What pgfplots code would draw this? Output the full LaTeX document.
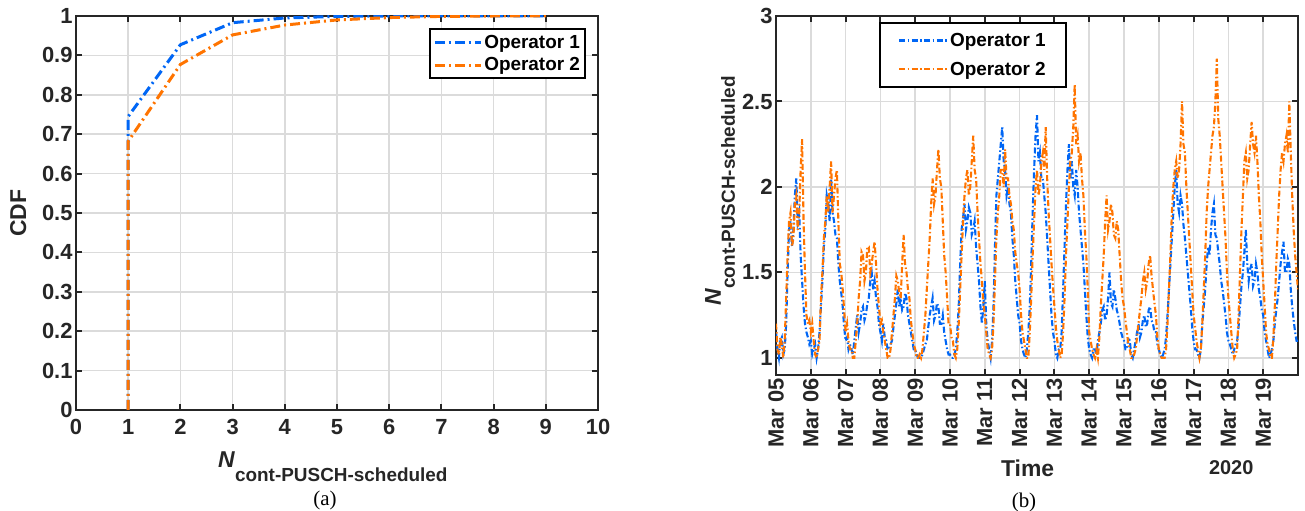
\documentclass[border=0pt]{standalone}
\usepackage{fontspec}
\setmainfont{Liberation Sans}
\newfontfamily\timesfont{Liberation Serif}
\usepackage{pgfplots}
\pgfplotsset{compat=1.18}
\usepackage{pgfplotstable}
\definecolor{opblue}{RGB}{0,102,245}
\definecolor{oporange}{RGB}{255,116,0}
\definecolor{axgray}{RGB}{38,38,38}

\pgfplotstableread{
t b o
0.000 1.15 1.20
0.042 1.05 1.05
0.083 1.00 1.02
0.125 1.10 1.12
0.167 1.12 1.08
0.208 1.02 1.00
0.250 1.05 1.10
0.292 1.20 1.35
0.333 1.50 1.60
0.375 1.75 1.80
0.417 1.80 1.85
0.458 1.65 1.65
0.500 1.75 1.70
0.542 1.95 1.90
0.583 2.05 1.95
0.625 1.80 1.75
0.667 1.85 1.85
0.708 1.60 2.10
0.750 1.45 2.28
0.792 1.30 1.80
0.833 1.20 1.50
0.875 1.15 1.25
0.917 1.12 1.20
0.958 1.08 1.22
1.000 1.10 1.15
1.042 1.02 1.20
1.083 1.05 1.10
1.125 1.08 1.02
1.167 1.00 1.00
1.208 1.05 1.05
1.250 1.15 1.10
1.292 1.30 1.35
1.333 1.45 1.50
1.375 1.65 1.70
1.417 1.75 1.80
1.458 1.95 1.95
1.500 1.90 1.85
1.542 1.80 2.00
1.583 2.05 2.15
1.625 1.85 1.85
1.667 1.80 1.95
1.708 1.72 2.05
1.750 1.70 2.10
1.792 1.55 1.80
1.833 1.45 1.55
1.875 1.38 1.50
1.917 1.30 1.40
1.958 1.18 1.28
2.000 1.10 1.15
2.042 1.12 1.20
2.083 1.05 1.10
2.125 1.08 1.05
2.167 1.05 1.05
2.208 1.02 1.00
2.250 1.10 1.00
2.292 1.18 1.10
2.333 1.25 1.20
2.375 1.15 1.35
2.417 1.20 1.45
2.458 1.28 1.62
2.500 1.30 1.60
2.542 1.22 1.45
2.583 1.25 1.50
2.625 1.32 1.65
2.667 1.35 1.65
2.708 1.45 1.50
2.750 1.50 1.55
2.792 1.40 1.62
2.833 1.45 1.68
2.875 1.35 1.55
2.917 1.30 1.40
2.958 1.20 1.30
3.000 1.15 1.20
3.042 1.10 1.22
3.083 1.20 1.15
3.125 1.12 1.10
3.167 1.10 1.05
3.208 1.05 1.00
3.250 1.05 1.00
3.292 1.08 1.05
3.333 1.10 1.15
3.375 1.18 1.25
3.417 1.25 1.35
3.458 1.32 1.48
3.500 1.40 1.45
3.542 1.30 1.38
3.583 1.35 1.35
3.625 1.28 1.55
3.667 1.30 1.72
3.708 1.38 1.55
3.750 1.35 1.50
3.792 1.25 1.40
3.833 1.20 1.35
3.875 1.15 1.22
3.917 1.10 1.15
3.958 1.05 1.08
4.000 1.05 1.05
4.042 1.02 1.00
4.083 1.00 1.00
4.125 1.00 1.02
4.167 1.00 1.00
4.208 1.02 1.05
4.250 1.05 1.15
4.292 1.08 1.25
4.333 1.10 1.40
4.375 1.18 1.55
4.417 1.25 1.70
4.458 1.30 1.90
4.500 1.35 2.05
4.542 1.22 1.90
4.583 1.25 1.95
4.625 1.32 2.10
4.667 1.30 2.22
4.708 1.20 2.05
4.750 1.20 2.00
4.792 1.25 1.80
4.833 1.15 1.60
4.875 1.10 1.50
4.917 1.05 1.35
4.958 1.02 1.20
5.000 1.02 1.20
5.042 1.00 1.12
5.083 1.00 1.10
5.125 1.02 1.02
5.167 1.05 1.00
5.208 1.15 1.05
5.250 1.30 1.20
5.292 1.55 1.40
5.333 1.75 1.60
5.375 1.82 1.80
5.417 1.90 1.95
5.458 1.75 2.05
5.500 1.80 2.10
5.542 1.88 1.95
5.583 1.85 2.00
5.625 1.72 2.15
5.667 1.75 2.30
5.708 1.80 2.10
5.750 1.65 2.05
5.792 1.55 1.85
5.833 1.45 1.70
5.875 1.30 1.55
5.917 1.20 1.45
5.958 1.30 1.32
6.000 1.45 1.25
6.042 1.20 1.15
6.083 1.10 1.05
6.125 1.05 1.02
6.167 1.00 1.00
6.208 1.10 1.05
6.250 1.30 1.20
6.292 1.65 1.45
6.333 1.95 1.70
6.375 2.05 1.85
6.417 2.15 1.95
6.458 2.25 2.10
6.500 2.35 2.10
6.542 2.15 2.00
6.583 2.10 2.22
6.625 1.95 2.05
6.667 2.00 2.05
6.708 1.90 1.95
6.750 1.85 1.90
6.792 1.70 1.80
6.833 1.60 1.75
6.875 1.45 1.62
6.917 1.35 1.55
6.958 1.25 1.50
7.000 1.20 1.40
7.042 1.10 1.25
7.083 1.05 1.15
7.125 1.02 1.10
7.167 1.00 1.05
7.208 1.05 1.00
7.250 1.15 1.00
7.292 1.30 1.15
7.333 1.55 1.35
7.375 1.85 1.60
7.417 2.10 1.80
7.458 2.30 2.00
7.500 2.42 2.10
7.542 2.15 1.95
7.583 2.20 2.00
7.625 2.05 2.15
7.667 2.05 2.20
7.708 1.95 2.10
7.750 1.85 2.35
7.792 1.70 2.05
7.833 1.55 1.85
7.875 1.40 1.70
7.917 1.25 1.55
7.958 1.15 1.42
8.000 1.10 1.30
8.042 1.02 1.18
8.083 1.00 1.10
8.125 1.05 1.05
8.167 1.05 1.00
8.208 1.15 1.02
8.250 1.40 1.15
8.292 1.65 1.35
8.333 1.90 1.60
8.375 2.10 1.80
8.417 2.25 2.00
8.458 2.05 2.15
8.500 2.15 2.20
8.542 2.00 2.35
8.583 1.95 2.60
8.625 2.10 2.25
8.667 2.00 2.30
8.708 1.85 2.15
8.750 1.75 2.20
8.792 1.65 2.05
8.833 1.55 1.95
8.875 1.40 1.75
8.917 1.25 1.60
8.958 1.12 1.40
9.000 1.05 1.15
9.042 1.02 1.10
9.083 1.00 1.05
9.125 1.05 1.02
9.167 1.05 1.00
9.208 1.02 1.05
9.250 1.10 1.00
9.292 1.15 1.12
9.333 1.20 1.30
9.375 1.28 1.45
9.417 1.30 1.60
9.458 1.22 1.80
9.500 1.25 1.95
9.542 1.35 1.75
9.583 1.50 1.80
9.625 1.32 1.90
9.667 1.30 1.85
9.708 1.40 1.72
9.750 1.35 1.70
9.792 1.28 1.80
9.833 1.25 1.75
9.875 1.20 1.60
9.917 1.15 1.45
9.958 1.12 1.35
10.000 1.10 1.30
10.042 1.05 1.22
10.083 1.05 1.15
10.125 1.12 1.08
10.167 1.10 1.05
10.208 1.02 1.00
10.250 1.00 1.00
10.292 1.05 1.02
10.333 1.10 1.05
10.375 1.15 1.12
10.417 1.20 1.20
10.458 1.12 1.28
10.500 1.15 1.35
10.542 1.22 1.45
10.583 1.25 1.50
10.625 1.18 1.40
10.667 1.20 1.45
10.708 1.28 1.55
10.750 1.30 1.60
10.792 1.22 1.48
10.833 1.20 1.40
10.875 1.15 1.32
10.917 1.15 1.25
10.958 1.08 1.12
11.000 1.05 1.05
11.042 1.02 1.02
11.083 1.00 1.00
11.125 1.02 1.00
11.167 1.05 1.00
11.208 1.12 1.05
11.250 1.25 1.20
11.292 1.40 1.40
11.333 1.55 1.60
11.375 1.70 1.85
11.417 1.85 2.00
11.458 2.00 2.10
11.500 2.10 2.15
11.542 1.90 2.05
11.583 1.85 2.10
11.625 1.95 2.25
11.667 1.90 2.50
11.708 1.78 2.25
11.750 1.70 2.20
11.792 1.60 2.00
11.833 1.50 1.85
11.875 1.40 1.70
11.917 1.30 1.55
11.958 1.18 1.40
12.000 1.10 1.25
12.042 1.05 1.18
12.083 1.05 1.10
12.125 1.02 1.05
12.167 1.00 1.00
12.208 1.05 1.05
12.250 1.20 1.20
12.292 1.30 1.40
12.333 1.40 1.60
12.375 1.55 1.85
12.417 1.65 2.00
12.458 1.60 2.10
12.500 1.75 2.20
12.542 1.85 2.30
12.583 1.90 2.35
12.625 1.72 2.50
12.667 1.70 2.75
12.708 1.62 2.40
12.750 1.55 2.30
12.792 1.45 2.15
12.833 1.40 2.00
12.875 1.32 1.85
12.917 1.25 1.70
12.958 1.15 1.50
13.000 1.10 1.35
13.042 1.08 1.25
13.083 1.05 1.15
13.125 1.02 1.05
13.167 1.05 1.00
13.208 1.08 1.02
13.250 1.10 1.05
13.292 1.18 1.25
13.333 1.30 1.50
13.375 1.42 1.75
13.417 1.50 1.95
13.458 1.62 2.15
13.500 1.75 2.20
13.542 1.55 2.05
13.583 1.45 2.10
13.625 1.52 2.25
13.667 1.55 2.38
13.708 1.42 2.25
13.750 1.45 2.20
13.792 1.55 2.30
13.833 1.50 2.15
13.875 1.40 1.95
13.917 1.35 1.80
13.958 1.28 1.60
14.000 1.25 1.45
14.042 1.15 1.30
14.083 1.10 1.15
14.125 1.05 1.08
14.167 1.00 1.05
14.208 1.02 1.00
14.250 1.05 1.00
14.292 1.10 1.12
14.333 1.20 1.30
14.375 1.28 1.55
14.417 1.35 1.75
14.458 1.45 1.95
14.500 1.55 2.10
14.542 1.62 2.20
14.583 1.68 2.15
14.625 1.50 2.25
14.667 1.50 2.30
14.708 1.58 2.20
14.750 1.55 2.50
14.792 1.40 2.20
14.833 1.30 1.95
14.875 1.22 1.75
14.917 1.15 1.60
14.958 1.10 1.50
15.000 1.10 1.40
}\ts

\pgfplotsset{
  matlab/.style={
    scale only axis, width=522bp,
    axis line style={line width=2.2bp, draw=axgray},
    tick style={line width=2bp, draw=axgray},
    major tick length=6bp,
    tick align=inside,
    grid=major,
    major grid style={line width=1.6bp, draw=black!14},
    tick label style={font=\fontsize{22}{25}\selectfont\bfseries, text=axgray},
    /pgf/number format/assume math mode=true,
    label style={font=\fontsize{23}{26}\selectfont\bfseries, text=axgray, inner sep=0pt},
    legend style={font=\fontsize{19}{22}\selectfont\bfseries, draw=black, line width=2bp, fill=white},
    legend cell align=left,
    clip mode=individual,
  }
}

\begin{document}
\begin{tikzpicture}
\path[use as bounding box] (0,0) rectangle (1305bp,511bp);

\begin{axis}[matlab, height=394bp, at={(76bp,101bp)}, anchor=south west,
  xmin=0, xmax=10, ymin=0, ymax=1,
  xtick={0,1,2,3,4,5,6,7,8,9,10},
  ytick={0,0.1,0.2,0.3,0.4,0.5,0.6,0.7,0.8,0.9,1},
  yticklabel style={/pgf/number format/.cd, fixed, precision=1},
  xticklabel style={yshift=-6bp},
  ylabel={CDF},
  ylabel style={at={(axis description cs:-0.1264,0.5)}, anchor=north},
  xlabel={\textit{N}\raisebox{-14bp}{\fontsize{19}{19}\selectfont cont-PUSCH-scheduled}},
  xlabel style={at={(axis description cs:0.492,-0.1066)}, anchor=north},
  legend style={at={(0.977,0.9695)}, anchor=north east, inner xsep=3bp, inner ysep=2bp, nodes={inner ysep=4bp}},
  legend image code/.code={\draw[#1] (0bp,0bp) -- (46bp,0bp);},
]
\addplot[opblue, line width=3bp, dash pattern=on 10bp off 4bp on 2bp off 4bp]
  coordinates {(1,0) (1,0.745) (2,0.927) (3,0.983) (4,0.995) (5,0.999) (6,1) (7,1) (8,1) (9,1)};
\addlegendentry{Operator 1}
\addplot[oporange, line width=3bp, dash pattern=on 10bp off 4bp on 2bp off 4bp]
  coordinates {(1,0) (1,0.682) (2,0.877) (3,0.952) (4,0.977) (5,0.990) (6,0.996) (7,0.999) (8,1) (9,1)};
\addlegendentry{Operator 2}
\end{axis}

\begin{axis}[matlab, height=359bp, at={(776bp,136bp)}, anchor=south west,
  xmin=0, xmax=15, ymin=0.9, ymax=3,
  xtick={0,1,2,3,4,5,6,7,8,9,10,11,12,13,14},
  xticklabels={Mar 05,Mar 06,Mar 07,Mar 08,Mar 09,Mar 10,Mar 11,Mar 12,Mar 13,Mar 14,Mar 15,Mar 16,Mar 17,Mar 18,Mar 19},
  xticklabel style={rotate=90, anchor=east},
  ytick={1,1.5,2,2.5,3},
  yticklabels={1,1.5,2,2.5,3},
  ylabel={\textit{N}\raisebox{-14bp}{\fontsize{19}{19}\selectfont cont-PUSCH-scheduled}},
  ylabel style={at={(axis description cs:-0.136,0.513)}, anchor=north},
  xlabel={Time},
  xlabel style={at={(axis description cs:0.482,-0.2368)}, anchor=north},
  legend style={at={(0.557,0.983)}, anchor=north east, inner xsep=18bp, inner ysep=3bp, nodes={inner ysep=7bp}},
  legend image code/.code={\draw[#1] (0bp,0bp) -- (48bp,0bp);},
]
\addplot[opblue, line width=2.1bp, dash pattern=on 6bp off 2.5bp on 1.5bp off 2.5bp] table[x=t, y=b] {\ts};
\addlegendentry{Operator 1}
\addplot[oporange, line width=2.1bp, dash pattern=on 6bp off 2.5bp on 1.5bp off 2.5bp] table[x=t, y=o] {\ts};
\addlegendentry{Operator 2}
\node[anchor=north, inner sep=0pt, font=\fontsize{20}{24}\selectfont\bfseries, text=axgray] at (rel axis cs:0.872,-0.2368) {2020};
\end{axis}

\node[font=\timesfont\fontsize{21}{24}\selectfont] at (325bp,11bp) {(a)};
\node[font=\timesfont\fontsize{21}{24}\selectfont] at (1024bp,9bp) {(b)};
\end{tikzpicture}
\end{document}
